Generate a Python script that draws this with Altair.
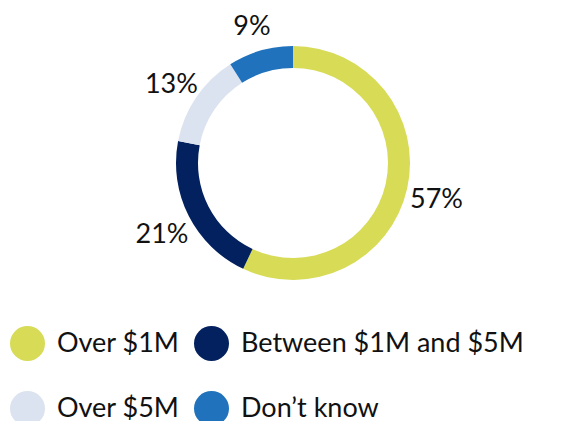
import altair as alt
import pandas as pd

categories = ["Over $1M", "Between $1M and $5M", "Over $5M", "Don’t know"]
values = [57, 21, 13, 9]
labels = ["57%", "21%", "13%", "9%"]
colors = ["#d8db56", "#03215e", "#dbe3f0", "#1f72bb"]

df = pd.DataFrame({
    "category": categories,
    "value": values,
    "label": labels,
    "order": list(range(len(categories))),
})

base = alt.Chart(df).encode(
    theta=alt.Theta("value:Q", stack=True),
    order=alt.Order("order:Q"),
)

color = alt.Color(
    "category:N",
    scale=alt.Scale(domain=categories, range=colors),
    legend=alt.Legend(
        orient="none", legendX=-9, legendY=318, columns=2, direction="horizontal",
        title=None,
        symbolType="circle", symbolSize=1225, symbolStrokeWidth=0, symbolOpacity=1,
        labelFontSize=27, labelFont="Lato", labelColor="#111111",
        labelOffset=12, columnPadding=14, rowPadding=30, labelLimit=500,
    ),
)

arc = base.mark_arc(outerRadius=117, innerRadius=95).encode(color=color)
text = base.mark_text(radius=147, dy=5, fontSize=27, font="Lato", color="#111111").encode(
    text="label:N"
)

chart = (
    alt.layer(arc, text)
    .properties(
        width=548, height=310,
        padding={"left": 11, "top": 0, "right": 0, "bottom": 110},
        autosize=alt.AutoSizeParams(type="none"),
    )
    .configure_view(stroke=None)
)

chart.save("out.html", embed_options={"renderer": "svg", "actions": False})
